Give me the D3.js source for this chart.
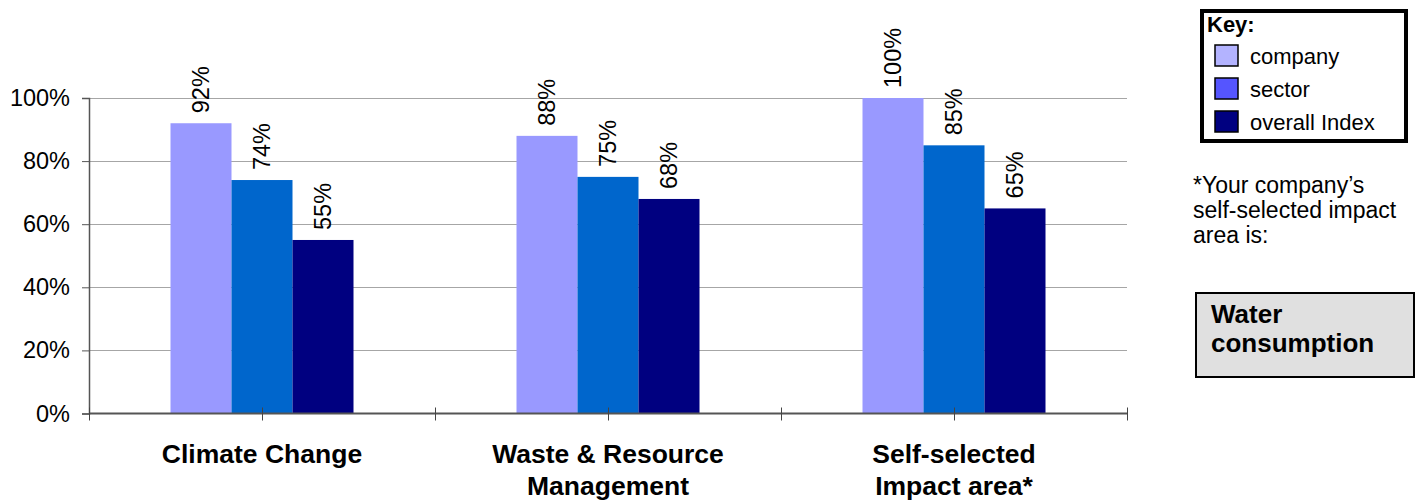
<!DOCTYPE html>
<html><head><meta charset="utf-8">
<script src="https://cdn.jsdelivr.net/npm/d3@7"></script>
<style>
body{margin:0;background:#fff;}
svg{display:block;font-family:"Liberation Sans",Arial,sans-serif;}
</style></head>
<body>
<svg id="chart" width="1417" height="502"></svg>
<script>
const categories = [["Climate Change"], ["Waste & Resource", "Management"], ["Self-selected", "Impact area*"]];
const seriesNames = ["company", "sector", "overall Index"];
const company = [92, 88, 100];
const sector = [74, 75, 85];
const overall = [55, 68, 65];
const yTicks = [0, 20, 40, 60, 80, 100];
const barColors = ["#9999ff", "#0066cc", "#000080"];
const keyColors = ["#b3b3ff", "#5555ff", "#000080"];

const values = [company, sector, overall];
const svg = d3.select("#chart");
const plotLeft = 89, plotRight = 1127, plotTop = 98, plotBottom = 413.5;

const catIdx = categories.map((d, i) => i);
const x = d3.scaleBand().domain(catIdx).range([plotLeft, plotRight]).padding(0);
const bw = x.bandwidth();
const groupW = 183;
const xs = d3.scaleBand().domain(d3.range(3)).range([(bw - groupW) / 2, (bw + groupW) / 2]).padding(0);
const y = d3.scaleLinear().domain([0, 100]).range([plotBottom, plotTop]);

// gridlines
svg.append("g").selectAll("line").data(yTicks.filter(t => t > 0)).join("line")
  .attr("x1", plotLeft).attr("x2", plotRight)
  .attr("y1", d => Math.round(y(d)) + 0.5).attr("y2", d => Math.round(y(d)) + 0.5)
  .attr("stroke", "#a6a6a6").attr("stroke-width", 1);

// bars
values.forEach((vals, s) => {
  svg.append("g").selectAll("rect").data(vals).join("rect")
    .attr("x", (d, i) => x(i) + xs(s))
    .attr("width", xs.bandwidth())
    .attr("y", d => y(d))
    .attr("height", d => plotBottom - y(d))
    .attr("fill", barColors[s]);
  svg.append("g").selectAll("text").data(vals).join("text")
    .attr("transform", (d, i) => `translate(${x(i) + xs(s) + xs.bandwidth() / 2 + 8},${y(d) - 10}) rotate(-90)`)
    .attr("font-size", 23.5).attr("fill", "#000")
    .text(d => d + "%");
});

// y axis
const yAxis = d3.axisLeft(y).tickValues(yTicks).tickFormat(d => d + "%").tickSize(7).tickPadding(12);
const gy = svg.append("g").attr("transform", `translate(${plotLeft},0)`).call(yAxis);
gy.select(".domain").attr("stroke", "#555").attr("stroke-width", 1.5);
gy.selectAll(".tick line").attr("stroke", "#555");
gy.selectAll(".tick text").attr("font-size", 23.5).attr("fill", "#000").attr("font-family", "Liberation Sans, Arial, sans-serif");

// x axis line and ticks
const xt = d3.scaleLinear().domain([0, categories.length]).range([plotLeft, plotRight]);
svg.append("line").attr("x1", plotLeft).attr("x2", plotRight).attr("y1", plotBottom).attr("y2", plotBottom)
  .attr("stroke", "#555").attr("stroke-width", 2);
svg.append("g").selectAll("line").data(d3.range(0, categories.length + 0.01, 0.5)).join("line")
  .attr("x1", d => Math.round(xt(d)) + 0.5).attr("x2", d => Math.round(xt(d)) + 0.5)
  .attr("y1", plotBottom - 6).attr("y2", plotBottom + 7)
  .attr("stroke", "#444").attr("stroke-width", 1);

// category labels
svg.append("g").selectAll("text").data(categories).join("text")
  .attr("x", (d, i) => x(i) + bw / 2).attr("y", 463)
  .attr("text-anchor", "middle").attr("font-weight", "bold").attr("font-size", 26.5)
  .each(function (d) {
    d3.select(this).selectAll("tspan").data(d).join("tspan")
      .attr("x", d3.select(this).attr("x")).attr("dy", (t, j) => j === 0 ? 0 : 32).text(t => t);
  });

// key box
svg.append("rect").attr("x", 1202).attr("y", 11).attr("width", 204).attr("height", 130)
  .attr("fill", "#fff").attr("stroke", "#000").attr("stroke-width", 4);
svg.append("text").attr("x", 1207).attr("y", 32).attr("font-weight", "bold").attr("font-size", 22).text("Key:");
const key = svg.append("g").selectAll("g").data(seriesNames).join("g")
  .attr("transform", (d, i) => `translate(1215,${45 + i * 33})`);
key.append("rect").attr("width", 23).attr("height", 21)
  .attr("fill", (d, i) => keyColors[i]).attr("stroke", "#000").attr("stroke-width", 1.5);
key.append("text").attr("x", 35).attr("y", 19).attr("font-size", 22).text(d => d);

// footnote
const foot = ["*Your company\u2019s", "self-selected impact", "area is:"];
svg.append("text").attr("x", 1193).attr("y", 193).attr("font-size", 23)
  .selectAll("tspan").data(foot).join("tspan").attr("x", 1193).attr("dy", (d, i) => i ? 25 : 0).text(d => d);

svg.append("rect").attr("x", 1196).attr("y", 293).attr("width", 218).attr("height", 84)
  .attr("fill", "#e0e0e0").attr("stroke", "#000").attr("stroke-width", 2);
svg.append("text").attr("x", 1211).attr("y", 323).attr("font-size", 26).attr("font-weight", "bold")
  .selectAll("tspan").data(["Water", "consumption"]).join("tspan").attr("x", 1211).attr("dy", (d, i) => i ? 29 : 0).text(d => d);
</script>
</body></html>
